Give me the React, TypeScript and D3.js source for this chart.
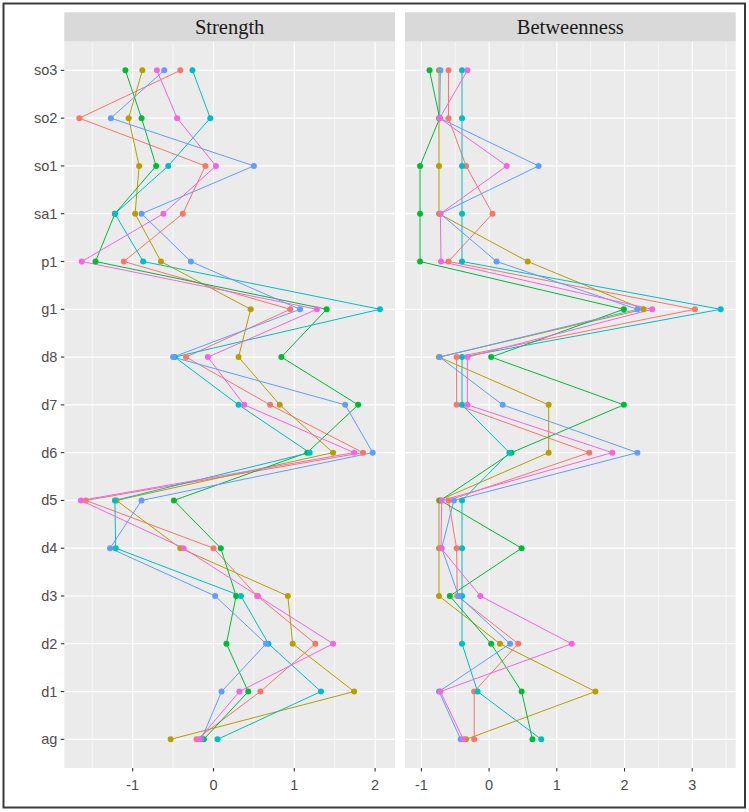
import * as d3 from "d3";

const categories = ["ag", "d1", "d2", "d3", "d4", "d5", "d6", "d7", "d8", "g1", "p1", "sa1", "so1", "so2", "so3"];
const seriesNames = ["s1", "s2", "s3", "s4", "s5", "s6"];
const seriesColors = ["#F8766D", "#B79F00", "#00BA38", "#00BFC4", "#619CFF", "#F564E3"];
const facets = ["Strength", "Betweenness"];

// values per series, ordered like categories (ag ... so3)
const strength = [
  [-0.21, 0.58, 1.26, 0.54, 0.0, -1.58, 1.85, 0.7, -0.34, 0.95, -1.11, -0.38, -0.1, -1.66, -0.41],
  [-0.53, 1.74, 0.98, 0.92, -0.41, -1.2, 1.48, 0.82, 0.31, 0.46, -0.65, -0.97, -0.92, -1.05, -0.88],
  [-0.12, 0.43, 0.16, 0.28, 0.09, -0.49, 1.16, 1.79, 0.84, 1.4, -1.46, -1.22, -0.71, -0.89, -1.09],
  [0.05, 1.33, 0.68, 0.34, -1.21, -1.22, 1.19, 0.31, -0.48, 2.06, -0.87, -1.22, -0.56, -0.04, -0.26],
  [-0.15, 0.1, 0.65, 0.02, -1.28, -0.89, 1.97, 1.63, -0.5, 1.07, -0.28, -0.89, 0.5, -1.27, -0.61],
  [-0.18, 0.32, 1.48, 0.55, -0.37, -1.64, 1.74, 0.38, -0.07, 1.28, -1.63, -0.62, 0.03, -0.45, -0.7],
];

const betweenness = [
  [-0.22, -0.22, 0.43, -0.47, -0.48, -0.6, 1.48, -0.48, -0.48, 3.04, -0.6, 0.05, -0.34, -0.6, -0.6],
  [-0.34, 1.57, 0.16, -0.74, -0.74, -0.74, 0.88, 0.88, -0.74, 2.28, 0.57, -0.74, -0.74, -0.74, -0.74],
  [0.64, 0.48, 0.03, -0.58, 0.48, -0.72, 0.33, 1.99, 0.03, 1.99, -1.02, -1.02, -1.02, -0.73, -0.88],
  [0.77, -0.17, -0.4, -0.4, -0.4, -0.4, 0.3, -0.4, -0.4, 3.42, -0.4, -0.4, -0.4, -0.4, -0.4],
  [-0.42, -0.74, 0.31, -0.45, -0.7, -0.52, 2.19, 0.2, -0.73, 2.19, 0.11, -0.72, 0.73, -0.73, -0.72],
  [-0.38, -0.72, 1.22, -0.13, -0.71, -0.7, 1.82, -0.32, -0.32, 2.41, -0.71, -0.72, 0.26, -0.73, -0.32],
];

const facetData = [strength, betweenness];

const W = 749;
const H = 812;
const panelTop = 41.7;
const panelBottom = 768;
const stripTop = 12.3;
const panels = [
  { x0: 64.3, x1: 395 },
  { x0: 405, x1: 735.7 },
];

const axisFont = "'Liberation Sans', Arial, sans-serif";
const stripFont = "'Liberation Serif', 'Times New Roman', serif";

export default function App() {
  const y = d3
    .scalePoint<string>()
    .domain(categories)
    .range([panelBottom, panelTop])
    .padding(0.6);

  return (
    <div style={{ position: "absolute", left: 0, top: 0 }}>
      <svg width={W} height={H} style={{ display: "block", background: "#fff" }}>
        <rect x={3.5} y={3.5} width={741.5} height={804} fill="#fff" stroke="#3a3a3a" strokeWidth={2} />
        {facets.map((name, fi) => {
          const p = panels[fi];
          const data = facetData[fi];
          const all = data.flat();
          const [lo, hi] = d3.extent(all) as [number, number];
          const pad = (hi - lo) * 0.05;
          const x = d3.scaleLinear().domain([lo - pad, hi + pad]).range([p.x0, p.x1]);
          const major = x.ticks(5);
          const step = major[1] - major[0];
          const minor: number[] = [];
          major.forEach((m) => {
            [m - step / 2, m + step / 2].forEach((v) => {
              if (v > x.domain()[0] && v < x.domain()[1] && !minor.includes(v)) minor.push(v);
            });
          });
          const line = d3
            .line<number>()
            .x((d) => x(d))
            .y((_, i) => y(categories[i])!);

          return (
            <g key={name}>
              {/* strip */}
              <rect x={p.x0} y={stripTop} width={p.x1 - p.x0} height={panelTop - stripTop} fill="#D9D9D9" />
              <text
                x={(p.x0 + p.x1) / 2}
                y={(stripTop + panelTop) / 2}
                dy="0.35em"
                textAnchor="middle"
                fontFamily={stripFont}
                fontSize={20.5}
                fill="#1A1A1A"
              >
                {name}
              </text>
              {/* panel */}
              <rect x={p.x0} y={panelTop} width={p.x1 - p.x0} height={panelBottom - panelTop} fill="#EBEBEB" />
              {minor.map((v) => (
                <line key={"mn" + v} x1={x(v)} x2={x(v)} y1={panelTop} y2={panelBottom} stroke="#fff" strokeWidth={0.6} />
              ))}
              {major.map((v) => (
                <line key={"mj" + v} x1={x(v)} x2={x(v)} y1={panelTop} y2={panelBottom} stroke="#fff" strokeWidth={1.2} />
              ))}
              {categories.map((c) => (
                <line key={"h" + c} x1={p.x0} x2={p.x1} y1={y(c)} y2={y(c)} stroke="#fff" strokeWidth={1.2} />
              ))}
              {/* lines */}
              {data.map((vals, si) => (
                <path key={"l" + si} d={line(vals) ?? ""} fill="none" stroke={seriesColors[si]} strokeWidth={1} />
              ))}
              {/* points */}
              {data.map((vals, si) => (
                <g key={"p" + si}>
                  {vals.map((v, i) => (
                    <circle key={i} cx={x(v)} cy={y(categories[i])} r={3} fill={seriesColors[si]} />
                  ))}
                </g>
              ))}
              {/* x axis */}
              {major.map((v) => (
                <g key={"xt" + v} transform={`translate(${x(v)},${panelBottom})`}>
                  <line y1={0} y2={3.5} stroke="#333" strokeWidth={1.1} />
                  <text y={17} textAnchor="middle" dy="0.35em" fontFamily={axisFont} fontSize={14.5} fill="#4D4D4D">
                    {v < 0 ? "-" + Math.abs(v) : String(v)}
                  </text>
                </g>
              ))}
            </g>
          );
        })}
        {/* y axis on left panel */}
        {categories.map((c) => (
          <g key={"yt" + c} transform={`translate(${panels[0].x0},${y(c)})`}>
            <line x1={-3.5} x2={0} stroke="#333" strokeWidth={1.1} />
            <text x={-7} dy="0.35em" textAnchor="end" fontFamily={axisFont} fontSize={14.5} fill="#4D4D4D">
              {c}
            </text>
          </g>
        ))}
        <title>{seriesNames.join(", ")}</title>
      </svg>
    </div>
  );
}
